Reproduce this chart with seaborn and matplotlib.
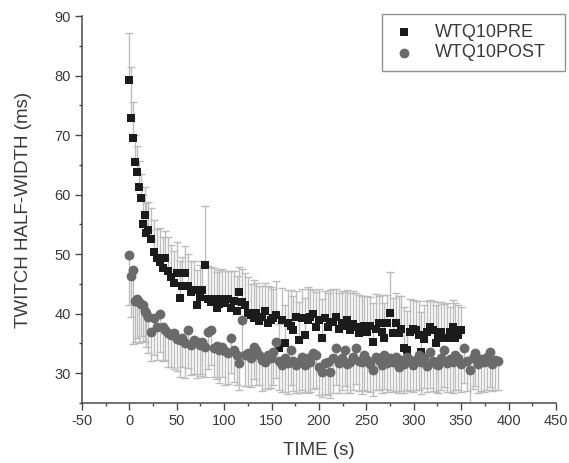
import numpy as np
import pandas as pd
import matplotlib
matplotlib.use("Agg")
import matplotlib.pyplot as plt
import seaborn as sns
from matplotlib.ticker import MultipleLocator

# ---------------- data ----------------
pre_time = [0, 2, 4, 6, 8, 10, 12, 14, 16, 18,
            20, 23, 26, 29, 32, 35, 38, 41, 44, 47,
            50, 53, 56, 59, 62, 65, 68, 71, 74, 77,
            80, 83, 86, 89, 92, 95, 98, 101, 104, 107,
            110, 113, 116, 119, 122, 125, 128, 131, 134, 137,
            140, 143, 146, 149, 152, 155, 158, 161, 164, 167,
            170, 173, 176, 179, 182, 185, 188, 191, 194, 197,
            200, 203, 206, 209, 212, 215, 218, 221, 224, 227,
            230, 233, 236, 239, 242, 245, 248, 251, 254, 257,
            260, 263, 266, 269, 272, 275, 278, 281, 284, 287,
            290, 293, 296, 299, 302, 305, 308, 311, 314, 317,
            320, 323, 326, 329, 332, 335, 338, 341, 344, 347,
            350]
pre_value = [79.3, 72.9, 69.5, 65.5, 63.8, 61.2, 59.4, 55.1, 56.6, 53.6,
             54.0, 52.5, 50.3, 49.3, 48.6, 47.6, 49.3, 47.2, 46.1, 45.1,
             46.9, 42.6, 44.6, 46.9, 44.6, 43.6, 44.0, 41.4, 42.8, 43.9,
             48.1, 42.5, 42.0, 42.5, 41.0, 41.7, 42.5, 41.8, 42.5, 40.9,
             42.2, 40.5, 43.6, 41.9, 41.4, 40.2, 39.8, 39.2, 40.2, 38.8,
             39.4, 40.5, 38.4, 39.0, 39.2, 39.7, 34.2, 38.9, 35.0, 38.4,
             38.0, 37.2, 39.4, 35.5, 39.2, 36.4, 38.9, 39.4, 40.0, 37.7,
             38.9, 36.0, 39.2, 37.7, 38.6, 38.6, 39.4, 37.5, 38.4, 38.0,
             38.9, 37.2, 38.2, 37.7, 36.8, 37.5, 38.0, 37.0, 38.0, 35.2,
             37.5, 38.4, 37.0, 36.0, 38.5, 40.2, 36.7, 38.4, 36.7, 37.5,
             34.2, 33.9, 37.0, 37.5, 37.2, 36.5, 33.5, 35.8, 37.0, 37.7,
             37.2, 35.0, 36.5, 37.0, 36.0, 36.0, 37.0, 37.7, 36.0, 36.5,
             37.2]
pre_err_up = [7.9, 8.6, 6.0, 4.5, 4.3, 4.4, 4.0, 4.8, 4.6, 5.0,
              4.8, 5.2, 5.5, 5.0, 5.8, 5.3, 4.6, 5.6, 5.4, 5.5,
              5.1, 6.2, 5.0, 4.4, 5.5, 5.2, 4.8, 6.0, 5.4, 5.0,
              10.0, 5.5, 5.8, 5.2, 6.0, 5.6, 5.0, 5.4, 4.6, 6.2,
              5.0, 5.8, 4.2, 5.6, 5.4, 6.0, 5.2, 6.4, 5.0, 5.8,
              5.2, 4.6, 6.2, 5.5, 5.0, 5.8, 4.0, 5.4, 6.5, 5.6,
              6.0, 5.8, 4.4, 6.4, 5.0, 6.2, 5.5, 4.8, 4.0, 6.0,
              5.2, 6.5, 4.6, 5.8, 5.4, 5.6, 4.8, 6.0, 5.4, 5.6,
              5.0, 6.2, 5.6, 5.8, 6.4, 5.4, 5.0, 6.0, 4.8, 6.6,
              5.8, 4.6, 6.2, 5.8, 4.6, 6.8, 6.0, 5.0, 6.2, 5.4,
              7.0, 6.6, 5.4, 4.8, 5.0, 5.6, 6.8, 5.6, 5.2, 4.6,
              5.0, 6.4, 5.4, 5.0, 5.6, 5.8, 4.2, 4.6, 5.8, 5.0,
              4.0]

post_time = [0, 2, 4, 6, 8, 10, 12, 14, 16, 18,
             20, 23, 26, 29, 32, 35, 38, 41, 44, 47,
             50, 53, 56, 59, 62, 65, 68, 71, 74, 77,
             80, 83, 86, 89, 92, 95, 98, 101, 104, 107,
             110, 113, 116, 119, 122, 125, 128, 131, 134, 137,
             140, 143, 146, 149, 152, 155, 158, 161, 164, 167,
             170, 173, 176, 179, 182, 185, 188, 191, 194, 197,
             200, 203, 206, 209, 212, 215, 218, 221, 224, 227,
             230, 233, 236, 239, 242, 245, 248, 251, 254, 257,
             260, 263, 266, 269, 272, 275, 278, 281, 284, 287,
             290, 293, 296, 299, 302, 305, 308, 311, 314, 317,
             320, 323, 326, 329, 332, 335, 338, 341, 344, 347,
             350, 353, 356, 359, 362, 365, 368, 371, 374, 377,
             380, 383, 386, 389]
post_value = [49.8, 46.4, 47.3, 42.2, 42.5, 42.0, 41.7, 41.4, 40.5, 40.2,
              39.4, 37.0, 39.2, 37.7, 40.0, 37.7, 37.2, 36.8, 36.4, 36.7,
              35.8, 35.5, 36.0, 35.0, 37.2, 34.7, 35.5, 35.2, 34.7, 35.2,
              34.4, 36.9, 37.2, 34.2, 34.5, 33.9, 34.4, 33.8, 33.4, 36.0,
              33.9, 33.0, 31.7, 38.9, 33.0, 33.4, 32.5, 34.4, 33.9, 33.0,
              32.2, 31.9, 33.0, 32.5, 33.5, 35.2, 32.0, 31.3, 32.5, 31.7,
              33.9, 32.0, 31.3, 31.9, 32.8, 31.3, 32.5, 31.9, 33.4, 33.0,
              31.0, 30.2, 31.7, 31.9, 30.2, 32.5, 34.2, 31.7, 32.6, 33.9,
              31.5, 31.9, 32.8, 34.2, 32.0, 31.9, 33.0, 32.2, 31.5, 30.5,
              32.8, 32.2, 31.4, 33.0, 31.7, 32.5, 31.9, 32.8, 31.0, 32.2,
              31.5, 32.8, 32.2, 31.4, 32.2, 33.0, 31.9, 32.5, 31.2, 33.5,
              32.0, 31.6, 31.3, 32.6, 33.9, 31.8, 32.4, 31.9, 33.0, 32.5,
              31.5, 34.2, 32.0, 30.5, 32.6, 33.4, 31.5, 32.4, 31.9, 32.8,
              33.5, 31.6, 32.2, 32.0]
post_err_down = [8.4, 7.0, 12.4, 7.0, 6.5, 7.0, 5.5, 6.0, 5.2, 5.8,
                 6.0, 5.0, 6.2, 5.4, 6.5, 5.6, 5.0, 5.8, 5.4, 6.0,
                 5.5, 6.2, 5.0, 5.8, 6.4, 5.0, 5.6, 6.0, 5.2, 5.4,
                 5.0, 6.2, 5.8, 4.8, 5.4, 5.6, 5.0, 5.8, 5.2, 6.0,
                 5.4, 5.0, 4.6, 6.0, 5.2, 5.6, 4.8, 5.4, 5.8, 5.0,
                 5.2, 4.6, 5.6, 5.0, 5.4, 6.0, 4.8, 4.4, 5.6, 5.2,
                 5.8, 5.0, 4.6, 5.2, 5.6, 4.4, 5.8, 5.0, 6.0, 5.4,
                 4.6, 4.2, 5.2, 5.6, 4.4, 5.8, 6.2, 5.0, 5.4, 6.0,
                 4.8, 5.2, 5.6, 6.0, 5.0, 5.4, 5.8, 5.2, 4.6, 4.4,
                 5.6, 5.0, 4.8, 5.6, 4.8, 5.4, 5.0, 5.8, 4.4, 5.2,
                 4.8, 5.6, 5.2, 4.6, 5.0, 5.8, 5.4, 5.0, 4.4, 6.0,
                 5.0, 4.8, 4.6, 5.4, 6.2, 5.0, 5.6, 5.2, 5.8, 5.4,
                 4.6, 5.8, 5.0, 6.0, 5.2, 5.6, 4.8, 5.4, 5.0, 5.6,
                 5.8, 4.6, 5.0, 4.8]

assert len(pre_time) == len(pre_value) == len(pre_err_up)
assert len(post_time) == len(post_value) == len(post_err_down)

labels = ["WTQ10PRE", "WTQ10POST"]
x_ticks = [-50, 0, 50, 100, 150, 200, 250, 300, 350, 400, 450]
y_ticks = [30, 40, 50, 60, 70, 80, 90]

# ---------------- style ----------------
sns.set_style("ticks")
plt.rcParams["font.family"] = ["Liberation Sans", "DejaVu Sans"]
plt.rcParams["axes.unicode_minus"] = False

TXT = "#3a3a3a"
SPINE = "#4a4a4a"
ERR = "#bdbdbd"
PRE_C = "#1b1b1b"
POST_C = "#6a6a6a"

pre_df = pd.DataFrame({"time": pre_time, "value": pre_value, "series": labels[0]})
post_df = pd.DataFrame({"time": post_time, "value": post_value, "series": labels[1]})

fig = plt.figure(figsize=(5.69, 4.63), dpi=100)
ax = fig.add_axes([0.1441, 0.1296, 0.8330, 0.8358])

# error bars (one-sided, as in the reference)
ax.errorbar(pre_time, pre_value,
            yerr=[np.zeros(len(pre_err_up)), pre_err_up],
            fmt="none", ecolor=ERR, elinewidth=1.0, capsize=2.6, capthick=1.0, zorder=1)
ax.errorbar(post_time, post_value,
            yerr=[post_err_down, np.zeros(len(post_err_down))],
            fmt="none", ecolor=ERR, elinewidth=1.0, capsize=2.6, capthick=1.0, zorder=1)

sns.scatterplot(data=pre_df, x="time", y="value", marker="s", color=PRE_C,
                s=36, linewidth=0, ax=ax, zorder=3, label=labels[0])
sns.scatterplot(data=post_df, x="time", y="value", marker="o", color=POST_C,
                s=50, linewidth=0, ax=ax, zorder=4, label=labels[1])

ax.set_xlim(-50, 450)
ax.set_ylim(25, 90)
ax.set_xticks(x_ticks)
ax.set_yticks(y_ticks)
ax.xaxis.set_minor_locator(MultipleLocator(25))
ax.yaxis.set_minor_locator(MultipleLocator(5))

sns.despine(ax=ax)
for sp in ("left", "bottom"):
    ax.spines[sp].set_color(SPINE)
    ax.spines[sp].set_linewidth(1.1)

ax.tick_params(axis="both", which="major", direction="out", length=5, width=1.0,
               color=SPINE, labelcolor=TXT, labelsize=10.5, pad=3)
ax.tick_params(axis="both", which="minor", direction="out", length=2.5, width=1.0,
               color=SPINE)

ax.set_xlabel("TIME (s)", fontsize=13.5, color=TXT, labelpad=10)
ax.set_ylabel("TWITCH HALF-WIDTH (ms)", fontsize=13.5, color=TXT, labelpad=16)

leg = ax.legend(loc="upper left", bbox_to_anchor=(0.671, 0.970, 0.322, 0.0),
                bbox_transform=fig.transFigure, borderaxespad=0, mode="expand",
                frameon=True, fancybox=False, shadow=False,
                fontsize=13, labelspacing=0.2, handletextpad=1.0,
                borderpad=0.55, handlelength=1.4, markerscale=1.0)
leg.get_frame().set_edgecolor("#777777")
leg.get_frame().set_linewidth(1.0)
for t in leg.get_texts():
    t.set_color(TXT)

fig.savefig("out.png", dpi=100)
